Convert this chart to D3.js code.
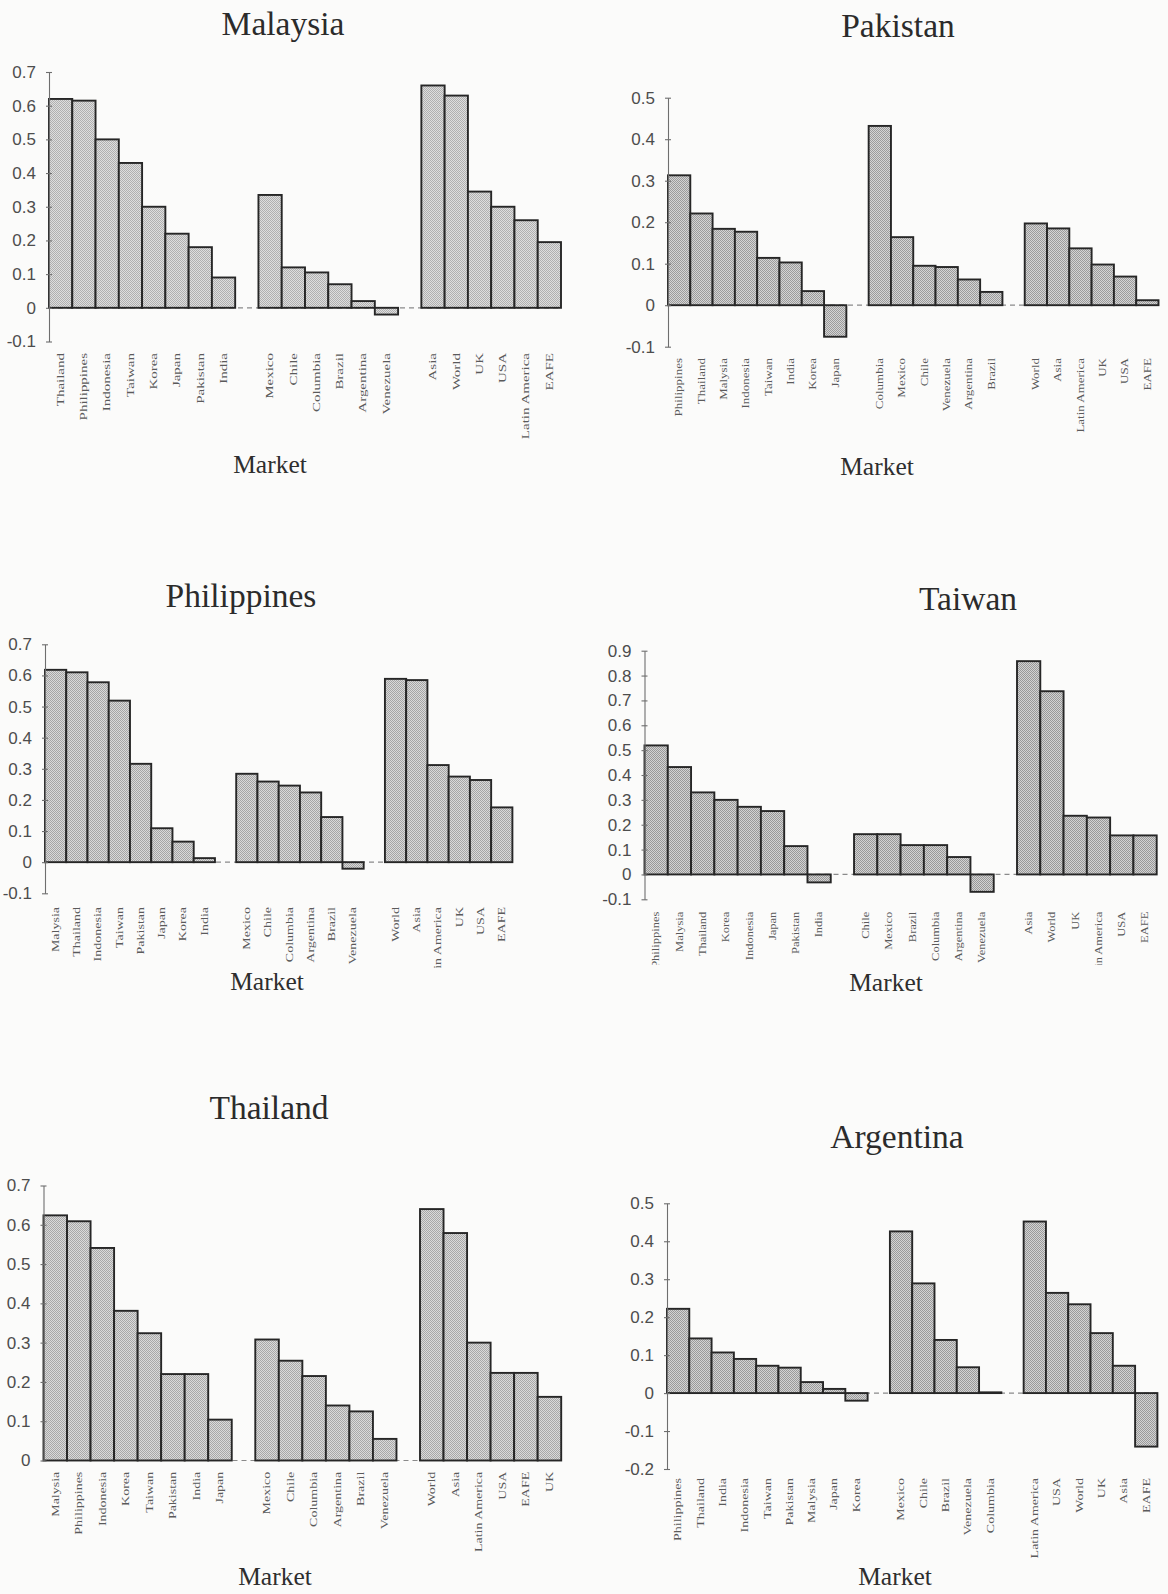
<!DOCTYPE html>
<html>
<head>
<meta charset="utf-8">
<script src="https://cdn.jsdelivr.net/npm/d3@7"></script>
<style>
  body { margin: 0; background: #fbfbfa; }
  svg { display: block; }
</style>
</head>
<body>
<svg id="chart" width="1168" height="1594"></svg>
<script>
// ---- Malaysia ----
const malaysiaMarkets = [
  ["Thailand", "Philippines", "Indonesia", "Taiwan", "Korea", "Japan", "Pakistan", "India"],
  ["Mexico", "Chile", "Columbia", "Brazil", "Argentina", "Venezuela"],
  ["Asia", "World", "UK", "USA", "Latin America", "EAFE"]
];
const malaysiaValues = [
  [0.62, 0.615, 0.50, 0.43, 0.30, 0.22, 0.18, 0.09],
  [0.335, 0.12, 0.105, 0.07, 0.02, -0.02],
  [0.66, 0.63, 0.345, 0.30, 0.26, 0.195]
];
const malaysiaTicks = [-0.1, 0, 0.1, 0.2, 0.3, 0.4, 0.5, 0.6, 0.7];

// ---- Pakistan ----
const pakistanMarkets = [
  ["Philippines", "Thailand", "Malysia", "Indonesia", "Taiwan", "India", "Korea", "Japan"],
  ["Columbia", "Mexico", "Chile", "Venezuela", "Argentina", "Brazil"],
  ["World", "Asia", "Latin America", "UK", "USA", "EAFE"]
];
const pakistanValues = [
  [0.313, 0.221, 0.184, 0.177, 0.114, 0.103, 0.034, -0.076],
  [0.432, 0.164, 0.095, 0.092, 0.062, 0.032],
  [0.197, 0.185, 0.137, 0.098, 0.069, 0.012]
];
const pakistanTicks = [-0.1, 0, 0.1, 0.2, 0.3, 0.4, 0.5];

// ---- Philippines ----
const philippinesMarkets = [
  ["Malysia", "Thailand", "Indonesia", "Taiwan", "Pakistan", "Japan", "Korea", "India"],
  ["Mexico", "Chile", "Columbia", "Argentina", "Brazil", "Venezuela"],
  ["World", "Asia", "Latin America", "UK", "USA", "EAFE"]
];
const philippinesValues = [
  [0.618, 0.61, 0.578, 0.519, 0.316, 0.109, 0.066, 0.013],
  [0.284, 0.259, 0.246, 0.224, 0.145, -0.021],
  [0.589, 0.585, 0.312, 0.275, 0.264, 0.176]
];
const philippinesTicks = [-0.1, 0, 0.1, 0.2, 0.3, 0.4, 0.5, 0.6, 0.7];

// ---- Taiwan ----
const taiwanMarkets = [
  ["Philippines", "Malysia", "Thailand", "Korea", "Indonesia", "Japan", "Pakistan", "India"],
  ["Chile", "Mexico", "Brazil", "Columbia", "Argentina", "Venezuela"],
  ["Asia", "World", "UK", "Latin America", "USA", "EAFE"]
];
const taiwanValues = [
  [0.519, 0.432, 0.33, 0.30, 0.272, 0.255, 0.114, -0.032],
  [0.162, 0.162, 0.118, 0.118, 0.07, -0.07],
  [0.858, 0.737, 0.236, 0.229, 0.157, 0.157]
];
const taiwanTicks = [-0.1, 0, 0.1, 0.2, 0.3, 0.4, 0.5, 0.6, 0.7, 0.8, 0.9];

// ---- Thailand ----
const thailandMarkets = [
  ["Malysia", "Philippines", "Indonesia", "Korea", "Taiwan", "Pakistan", "India", "Japan"],
  ["Mexico", "Chile", "Columbia", "Argentina", "Brazil", "Venezuela"],
  ["World", "Asia", "Latin America", "USA", "EAFE", "UK"]
];
const thailandValues = [
  [0.624, 0.609, 0.541, 0.381, 0.324, 0.22, 0.22, 0.104],
  [0.308, 0.254, 0.215, 0.14, 0.125, 0.055],
  [0.64, 0.579, 0.30, 0.223, 0.223, 0.162]
];
const thailandTicks = [0, 0.1, 0.2, 0.3, 0.4, 0.5, 0.6, 0.7];

// ---- Argentina ----
const argentinaMarkets = [
  ["Philippines", "Thailand", "India", "Indonesia", "Taiwan", "Pakistan", "Malysia", "Japan", "Korea"],
  ["Mexico", "Chile", "Brazil", "Venezuela", "Columbia"],
  ["Latin America", "USA", "World", "UK", "Asia", "EAFE"]
];
const argentinaValues = [
  [0.222, 0.144, 0.107, 0.09, 0.072, 0.067, 0.029, 0.011, -0.02],
  [0.426, 0.289, 0.14, 0.068, 0.002],
  [0.452, 0.264, 0.234, 0.158, 0.072, -0.141]
];
const argentinaTicks = [-0.2, -0.1, 0, 0.1, 0.2, 0.3, 0.4, 0.5];

// Panel layout (pixel geometry of each small chart)
const panelLayout = [
  { title: "Malaysia", markets: malaysiaMarkets, values: malaysiaValues, ticks: malaysiaTicks,
    x0: 49, x1: 561, yHi: 72, yLo: 341.5, titleX: 283, titleY: 35, marketX: 270, marketY: 473,
    labelTop: 353, labelStretch: 1.5, tone: ["#dedede", "#b0b0b0"] },
  { title: "Pakistan", markets: pakistanMarkets, values: pakistanValues, ticks: pakistanTicks,
    x0: 668, x1: 1158.5, yHi: 97.7, yLo: 346.7, titleX: 898, titleY: 37, marketX: 877, marketY: 475,
    labelTop: 358, labelStretch: 1.3, tone: ["#d4d4d4", "#9b9b9b"] },
  { title: "Philippines", markets: philippinesMarkets, values: philippinesValues, ticks: philippinesTicks,
    x0: 45, x1: 512.4, yHi: 644.3, yLo: 893.3, titleX: 241, titleY: 607, marketX: 267, marketY: 990,
    labelTop: 907, labelStretch: 1.4, clipBottom: 968, tone: ["#d9d9d9", "#a5a5a5"] },
  { title: "Taiwan", markets: taiwanMarkets, values: taiwanValues, ticks: taiwanTicks,
    x0: 644.5, x1: 1156.7, yHi: 650.7, yLo: 899.3, titleX: 968, titleY: 610, marketX: 886, marketY: 991,
    labelTop: 911.7, labelStretch: 1.25, clipBottom: 965, tone: ["#d2d2d2", "#989898"] },
  { title: "Thailand", markets: thailandMarkets, values: thailandValues, ticks: thailandTicks,
    x0: 43.5, x1: 561.2, yHi: 1185.5, yLo: 1460.5, titleX: 269, titleY: 1119, marketX: 275, marketY: 1585,
    labelTop: 1471.7, labelStretch: 1.4, tone: ["#dadada", "#a8a8a8"] },
  { title: "Argentina", markets: argentinaMarkets, values: argentinaValues, ticks: argentinaTicks,
    x0: 667, x1: 1157.4, yHi: 1203.3, yLo: 1469, titleX: 897, titleY: 1148, marketX: 895, marketY: 1585,
    labelTop: 1478, labelStretch: 1.4, tone: ["#d3d3d3", "#9a9a9a"] }
];

const svg = d3.select("#chart");
const defs = svg.append("defs");

svg.append("rect").attr("width", 1168).attr("height", 1594).attr("fill", "#fbfbfa");

// plain hyphen for negative ticks, "0" for zero
const tickFmt = v => (v === 0 ? "0" : v.toFixed(1));

panelLayout.forEach((p, pi) => {
  // halftone fill for the bars of this panel
  const pat = defs.append("pattern")
    .attr("id", "dots" + pi)
    .attr("width", 2).attr("height", 2)
    .attr("patternUnits", "userSpaceOnUse");
  pat.append("rect").attr("width", 2).attr("height", 2).attr("fill", p.tone[0]);
  pat.append("rect").attr("x", 0).attr("y", 0).attr("width", 1).attr("height", 1).attr("fill", p.tone[1]);
  pat.append("rect").attr("x", 1).attr("y", 1).attr("width", 1).attr("height", 1).attr("fill", p.tone[1]);

  // one slot per market, with an empty slot between groups
  const slots = [];
  p.markets.forEach((grp, gi) => {
    if (gi > 0) slots.push(null);
    grp.forEach((m, i) => slots.push({ market: m, value: p.values[gi][i] }));
  });

  const x = d3.scaleBand()
    .domain(d3.range(slots.length))
    .range([p.x0, p.x1])
    .paddingInner(0).paddingOuter(0);
  const y = d3.scaleLinear()
    .domain([p.ticks[0], p.ticks[p.ticks.length - 1]])
    .range([p.yLo, p.yHi]);

  const g = svg.append("g").attr("class", "panel");

  // title
  g.append("text")
    .attr("x", p.titleX).attr("y", p.titleY)
    .attr("text-anchor", "middle")
    .attr("font-family", "'Liberation Serif', 'Times New Roman', serif")
    .attr("font-size", 33.5)
    .attr("fill", "#2b2b2b")
    .text(p.title);

  // dashed zero line running across the groups
  g.append("line")
    .attr("x1", p.x0).attr("x2", p.x1)
    .attr("y1", y(0)).attr("y2", y(0))
    .attr("stroke", "#8a8a8a")
    .attr("stroke-width", 1.2)
    .attr("stroke-dasharray", "5,4");

  // bars
  g.append("g").selectAll("rect")
    .data(slots.map((s, i) => ({ s, i })).filter(d => d.s))
    .join("rect")
    .attr("x", d => x(d.i))
    .attr("width", x.bandwidth())
    .attr("y", d => y(Math.max(0, d.s.value)))
    .attr("height", d => Math.abs(y(d.s.value) - y(0)))
    .attr("fill", `url(#dots${pi})`)
    .attr("stroke", "#262626")
    .attr("stroke-width", 1.9);

  // value axis
  const yAxis = d3.axisLeft(y)
    .tickValues(p.ticks)
    .tickFormat(tickFmt)
    .tickSizeInner(3)
    .tickSizeOuter(0)
    .tickPadding(10);
  const ya = g.append("g")
    .attr("transform", `translate(${p.x0},0)`)
    .call(yAxis);
  ya.select(".domain").attr("stroke", "#6e6e6e").attr("stroke-width", 1.1);
  ya.selectAll(".tick line").attr("x1", 3).attr("x2", -3).attr("stroke", "#6e6e6e").attr("stroke-width", 1.1);
  ya.selectAll(".tick text")
    .attr("font-family", "'Liberation Sans', Arial, sans-serif")
    .attr("font-size", 17)
    .attr("fill", "#4d4d4d");

  // market labels under the bars (optionally clipped at the bottom)
  const labelHolder = g.append("g");
  if (p.clipBottom) {
    const cid = "labelClip" + pi;
    defs.append("clipPath").attr("id", cid)
      .append("rect")
      .attr("x", p.x0 - 30).attr("y", p.labelTop - 5)
      .attr("width", p.x1 - p.x0 + 60)
      .attr("height", p.clipBottom - p.labelTop + 5);
    labelHolder.attr("clip-path", `url(#${cid})`);
  }
  const xAxis = d3.axisBottom(x)
    .tickFormat(i => (slots[i] ? slots[i].market : ""))
    .tickSize(0)
    .tickPadding(0);
  const xa = labelHolder.append("g")
    .attr("transform", `translate(0,${p.labelTop})`)
    .call(xAxis);
  xa.select(".domain").remove();
  xa.selectAll(".tick text")
    .attr("transform", `rotate(-90) scale(${p.labelStretch},1)`)
    .attr("x", 0).attr("y", 0)
    .attr("dy", "0.33em")
    .attr("text-anchor", "end")
    .attr("font-family", "'Liberation Serif', 'Times New Roman', serif")
    .attr("font-size", 10)
    .attr("fill", "#5a5a5a");

  // axis caption
  g.append("text")
    .attr("x", p.marketX).attr("y", p.marketY)
    .attr("text-anchor", "middle")
    .attr("font-family", "'Liberation Serif', 'Times New Roman', serif")
    .attr("font-size", 25.5)
    .attr("fill", "#2e2e2e")
    .text("Market");
});
</script>
</body>
</html>
